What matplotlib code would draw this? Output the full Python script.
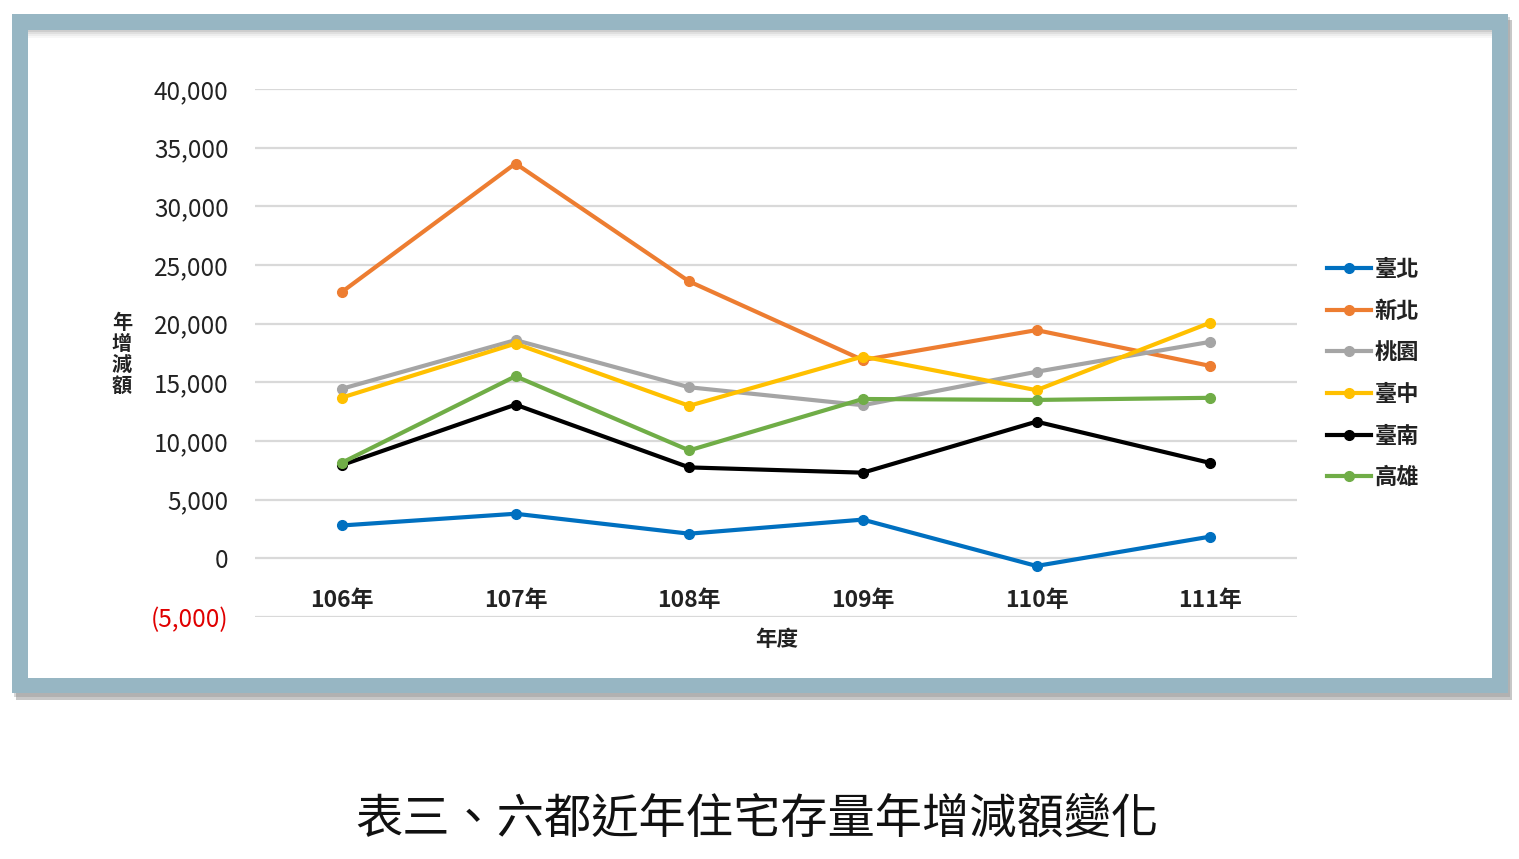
import matplotlib
matplotlib.use("Agg")
import matplotlib.pyplot as plt
from matplotlib.patches import Rectangle
from matplotlib.ticker import FuncFormatter, MultipleLocator
from matplotlib.lines import Line2D

plt.rcParams['font.family'] = ['Noto Sans CJK TC', 'DejaVu Sans']

years = ["106年", "107年", "108年", "109年", "110年", "111年"]
taipei = [2800, 3800, 2100, 3300, -650, 1850]
newtaipei = [22700, 33650, 23600, 16900, 19450, 16400]
taoyuan = [14450, 18600, 14580, 13050, 15900, 18450]
taichung = [13700, 18300, 13000, 17200, 14330, 20080]
tainan = [7950, 13100, 7750, 7300, 11650, 8130]
kaohsiung = [8150, 15520, 9200, 13580, 13500, 13680]

series_names = ["臺北", "新北", "桃園", "臺中", "臺南", "高雄"]
series_values = [taipei, newtaipei, taoyuan, taichung, tainan, kaohsiung]
colors = ["#0070C0", "#ED7D31", "#A5A5A5", "#FFC000", "#000000", "#70AD47"]

W, H = 1519, 859
fig = plt.figure(figsize=(W / 100, H / 100), dpi=100)
fig.patch.set_facecolor("white")

def px_rect(x0, y0, x1, y1, **kw):
    # pixel coords from top-left -> figure fraction
    return Rectangle((x0 / W, 1 - y1 / H), (x1 - x0) / W, (y1 - y0) / H,
                     transform=fig.transFigure, **kw)

# drop shadow of frame
fig.patches.append(px_rect(16, 20, 1512, 700, facecolor="#9a9a9a", edgecolor="none", alpha=0.55, zorder=0))
fig.patches.append(px_rect(14, 17, 1510, 697, facecolor="#8a8a8a", edgecolor="none", alpha=0.35, zorder=0))
# outer frame
fig.patches.append(px_rect(12, 14, 1508, 693, facecolor="#97B6C3", edgecolor="none", zorder=1))
# inner white area
fig.patches.append(px_rect(28, 30, 1492, 678, facecolor="white", edgecolor="none", zorder=2))
# inner top shadow
for i, a in enumerate([0.35, 0.22, 0.12, 0.05]):
    fig.patches.append(px_rect(28, 30 + 2 * i, 1492, 32 + 2 * i, facecolor="#707070",
                               edgecolor="none", alpha=a, zorder=3))

ax = fig.add_axes([255 / W, 1 - 617 / H, (1297 - 255) / W, (617 - 89) / H])
ax.set_zorder(5)
ax.patch.set_alpha(0)

x = list(range(len(years)))
for name, vals, c in zip(series_names, series_values, colors):
    ax.plot(x, vals, color=c, lw=3.0, marker="o", markersize=7, label=name,
            solid_capstyle="round", zorder=3)

ax.set_xlim(-0.5, len(years) - 0.5)
ax.set_ylim(-5000, 40000)
ax.yaxis.set_major_locator(MultipleLocator(5000))

def yfmt(v, pos):
    if v < 0:
        return "({:,.0f})".format(-v)
    return "{:,.0f}".format(v)

ax.yaxis.set_major_formatter(FuncFormatter(yfmt))
ax.grid(axis="y", color="#D9D9D9", lw=1.6)
ax.set_axisbelow(True)
for s in ["top", "right", "left"]:
    ax.spines[s].set_visible(False)
ax.spines["bottom"].set_position(("data", 0))
ax.spines["bottom"].set_color("none")

ax.set_xticks(x)
ax.set_xticklabels(years, fontsize=16.5, fontweight="bold", color="#222222")
ax.tick_params(axis="x", length=0, pad=22)
ax.tick_params(axis="y", length=0, pad=19, labelsize=17.5, labelcolor="#222222")
for lbl, v in zip(ax.get_yticklabels(), ax.get_yticks()):
    if v < 0:
        lbl.set_color("#E00000")

fig.text(777 / W, 1 - 640 / H, "年度", ha="center", va="center", fontsize=15.5,
         fontweight="bold", color="#222222", zorder=6)
fig.text(122 / W, 1 - 354 / H, "年\n增\n減\n額", ha="center", va="center", fontsize=14.5,
         fontweight="bold", color="#222222", linespacing=1.0, zorder=6)

handles = [Line2D([0], [0], color=c, lw=3.0, marker="o", markersize=7) for c in colors]
leg = fig.legend(handles, series_names, loc="upper left",
                 bbox_to_anchor=(1318 / W, 1 - 249 / H), frameon=False,
                 fontsize=16, handlelength=2.0, handletextpad=0.15,
                 labelspacing=0.84, borderaxespad=0)
for t in leg.get_texts():
    t.set_fontweight("bold")
    t.set_color("#222222")
leg.set_zorder(7)

fig.text(757 / W, 1 - 819 / H, "表三、六都近年住宅存量年增減額變化", ha="center", va="center",
         fontsize=34, color="#111111")

fig.savefig("out.png", dpi=100, facecolor="white")
